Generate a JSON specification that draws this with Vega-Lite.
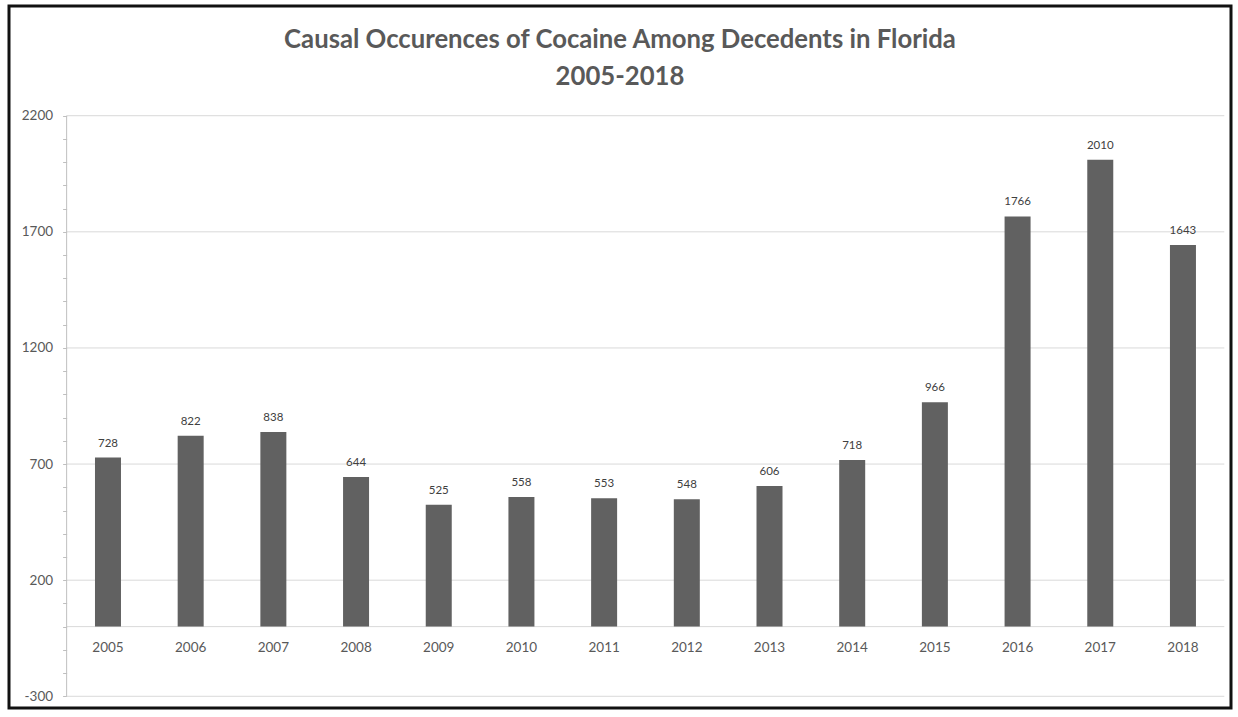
{
  "$schema": "https://vega.github.io/schema/vega-lite/v6.json",
  "width": 1222,
  "height": 702,
  "autosize": {"type": "none"},
  "padding": {"left": 9, "top": 6, "right": 7, "bottom": 9},
  "background": "#ffffff",
  "config": {
    "view": {"stroke": "#111111", "strokeWidth": 3},
    "font": "Lato"
  },
  "title": {
    "text": ["Causal Occurences of Cocaine Among Decedents in Florida", "2005-2018"],
    "font": "Lato",
    "fontSize": 25.7,
    "fontWeight": "bold",
    "color": "#595959",
    "lineHeight": 37,
    "anchor": "middle",
    "frame": "group",
    "offset": -85
  },
  "datasets": {
    "counts": [
      {"year": 2005, "count": 728},
      {"year": 2006, "count": 822},
      {"year": 2007, "count": 838},
      {"year": 2008, "count": 644},
      {"year": 2009, "count": 525},
      {"year": 2010, "count": 558},
      {"year": 2011, "count": 553},
      {"year": 2012, "count": 548},
      {"year": 2013, "count": 606},
      {"year": 2014, "count": 718},
      {"year": 2015, "count": 966},
      {"year": 2016, "count": 1766},
      {"year": 2017, "count": 2010},
      {"year": 2018, "count": 1643}
    ],
    "grid": [
      {"v": -300}, {"v": 0}, {"v": 200}, {"v": 700}, {"v": 1200}, {"v": 1700}, {"v": 2200}
    ]
  },
  "layer": [
    {
      "data": {"name": "grid"},
      "mark": {"type": "rule", "color": "#d9d9d9", "strokeWidth": 1},
      "encoding": {
        "x": {"datum": 2004.5, "type": "quantitative", "scale": {"domain": [2003.803, 2018.581], "nice": false, "zero": false, "padding": 0}, "axis": null},
        "x2": {"datum": 2018.5},
        "y": {
          "field": "v", "type": "quantitative",
          "scale": {"domain": [-350.4, 2672.4], "nice": false, "zero": false, "padding": 0},
          "axis": {
            "title": null,
            "values": [-300, -200, -100, 0, 100, 200, 300, 400, 500, 600, 700, 800, 900, 1000, 1100, 1200, 1300, 1400, 1500, 1600, 1700, 1800, 1900, 2000, 2100, 2200],
            "labelExpr": "(datum.value + 300) % 500 === 0 ? '' + datum.value : ''",
            "labelOverlap": false,
            "labelFont": "Lato",
            "labelFontSize": 13.5,
            "labelColor": "#595959",
            "labelPadding": 10,
            "tickColor": "#bfbfbf",
            "tickSize": 4,
            "domain": false,
            "grid": false,
            "offset": -57.6
          }
        }
      }
    },
    {
      "data": {"values": [{}]},
      "mark": {"type": "rule", "color": "#bfbfbf", "strokeWidth": 1},
      "encoding": {
        "x": {"datum": 2004.5, "type": "quantitative", "scale": {"domain": [2003.803, 2018.581], "nice": false, "zero": false, "padding": 0}, "axis": null},
        "y": {
          "datum": -300, "type": "quantitative",
          "scale": {"domain": [-350.4, 2672.4], "nice": false, "zero": false, "padding": 0},
          "axis": {
            "title": null,
            "values": [-300, -200, -100, 0, 100, 200, 300, 400, 500, 600, 700, 800, 900, 1000, 1100, 1200, 1300, 1400, 1500, 1600, 1700, 1800, 1900, 2000, 2100, 2200],
            "labelExpr": "(datum.value + 300) % 500 === 0 ? '' + datum.value : ''",
            "labelOverlap": false,
            "labelFont": "Lato",
            "labelFontSize": 13.5,
            "labelColor": "#595959",
            "labelPadding": 10,
            "tickColor": "#bfbfbf",
            "tickSize": 4,
            "domain": false,
            "grid": false,
            "offset": -57.6
          }
        },
        "y2": {"datum": 2200}
      }
    },
    {
      "data": {"name": "counts"},
      "mark": {"type": "bar", "color": "#616161", "size": 26},
      "encoding": {
        "x": {"field": "year", "type": "quantitative", "scale": {"domain": [2003.803, 2018.581], "nice": false, "zero": false, "padding": 0}, "axis": null},
        "y": {
          "field": "count",
          "type": "quantitative",
          "scale": {"domain": [-350.4, 2672.4], "nice": false, "zero": false, "padding": 0},
          "axis": {
            "title": null,
            "values": [-300, -200, -100, 0, 100, 200, 300, 400, 500, 600, 700, 800, 900, 1000, 1100, 1200, 1300, 1400, 1500, 1600, 1700, 1800, 1900, 2000, 2100, 2200],
            "labelExpr": "(datum.value + 300) % 500 === 0 ? '' + datum.value : ''",
            "labelOverlap": false,
            "labelFont": "Lato",
            "labelFontSize": 13.5,
            "labelColor": "#595959",
            "labelPadding": 10,
            "tickColor": "#bfbfbf",
            "tickSize": 4,
            "domain": false,
            "grid": false,
            "offset": -57.6
          }
        },
        "y2": {"datum": 0}
      }
    },
    {
      "data": {"name": "counts"},
      "mark": {"type": "text", "font": "Lato", "fontSize": 11.5, "color": "#404040", "baseline": "middle", "dy": -14},
      "encoding": {
        "x": {"field": "year", "type": "quantitative", "scale": {"domain": [2003.803, 2018.581], "nice": false, "zero": false, "padding": 0}, "axis": null},
        "y": {
          "field": "count", "type": "quantitative",
          "scale": {"domain": [-350.4, 2672.4], "nice": false, "zero": false, "padding": 0},
          "axis": {
            "title": null,
            "values": [-300, -200, -100, 0, 100, 200, 300, 400, 500, 600, 700, 800, 900, 1000, 1100, 1200, 1300, 1400, 1500, 1600, 1700, 1800, 1900, 2000, 2100, 2200],
            "labelExpr": "(datum.value + 300) % 500 === 0 ? '' + datum.value : ''",
            "labelOverlap": false,
            "labelFont": "Lato",
            "labelFontSize": 13.5,
            "labelColor": "#595959",
            "labelPadding": 10,
            "tickColor": "#bfbfbf",
            "tickSize": 4,
            "domain": false,
            "grid": false,
            "offset": -57.6
          }
        },
        "text": {"field": "count", "type": "quantitative", "format": "d"}
      }
    },
    {
      "data": {"name": "counts"},
      "mark": {"type": "text", "font": "Lato", "fontSize": 13.5, "color": "#595959", "baseline": "middle", "dy": 21.5},
      "encoding": {
        "x": {"field": "year", "type": "quantitative", "scale": {"domain": [2003.803, 2018.581], "nice": false, "zero": false, "padding": 0}, "axis": null},
        "y": {
          "datum": 0, "type": "quantitative",
          "scale": {"domain": [-350.4, 2672.4], "nice": false, "zero": false, "padding": 0},
          "axis": {
            "title": null,
            "values": [-300, -200, -100, 0, 100, 200, 300, 400, 500, 600, 700, 800, 900, 1000, 1100, 1200, 1300, 1400, 1500, 1600, 1700, 1800, 1900, 2000, 2100, 2200],
            "labelExpr": "(datum.value + 300) % 500 === 0 ? '' + datum.value : ''",
            "labelOverlap": false,
            "labelFont": "Lato",
            "labelFontSize": 13.5,
            "labelColor": "#595959",
            "labelPadding": 10,
            "tickColor": "#bfbfbf",
            "tickSize": 4,
            "domain": false,
            "grid": false,
            "offset": -57.6
          }
        },
        "text": {"field": "year", "type": "nominal"}
      }
    }
  ]
}
